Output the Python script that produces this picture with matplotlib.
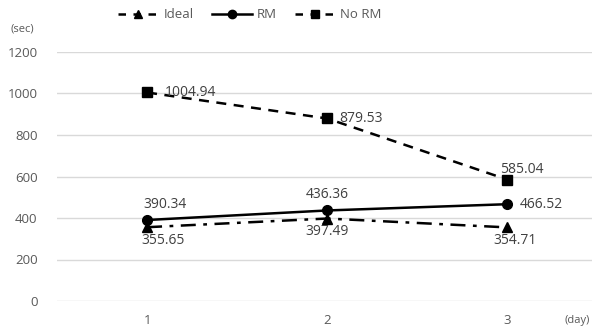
import matplotlib
matplotlib.use("Agg")
import matplotlib.pyplot as plt
from matplotlib.lines import Line2D

days = [1, 2, 3]
ideal = [355.65, 397.49, 354.71]
rm = [390.34, 436.36, 466.52]
no_rm = [1004.94, 879.53, 585.04]
yticks = [0, 200, 400, 600, 800, 1000, 1200]

plt.rcParams['font.family'] = ['Open Sans', 'DejaVu Sans']

fig = plt.figure(figsize=(5.92, 3.31), dpi=100)
ax = fig.add_axes([57 / 592, 30 / 331, 1 - 57 / 592, 249 / 331])

lw = 1.8
ax.plot(days, ideal, color='black', lw=lw, linestyle=(0, (6, 3, 1.5, 3)),
        marker='^', markersize=7)
ax.plot(days, rm, color='black', lw=lw, linestyle='-', marker='o', markersize=7)
ax.plot(days, no_rm, color='black', lw=lw, linestyle=(0, (4, 3)),
        marker='s', markersize=6.5)

ax.set_xlim(0.5, 3.47)
ax.set_ylim(0, 1200)
ax.set_yticks(yticks)
ax.set_xticks(days)
ax.grid(axis='y', color='#d9d9d9', lw=1)
ax.set_axisbelow(True)
for s in ax.spines.values():
    s.set_visible(False)
ax.tick_params(length=0, colors='#595959', labelsize=9.5)
ax.tick_params(axis='y', pad=14)
ax.tick_params(axis='x', pad=9)

lab_kw = dict(fontsize=10, color='#404040')
# value labels
ax.annotate(f"{no_rm[0]:.2f}", (days[0], no_rm[0]), xytext=(13, 0),
            textcoords='offset points', va='center', ha='left', **lab_kw)
ax.annotate(f"{no_rm[1]:.2f}", (days[1], no_rm[1]), xytext=(9, 0),
            textcoords='offset points', va='center', ha='left', **lab_kw)
ax.annotate(f"{no_rm[2]:.2f}", (days[2], no_rm[2]), xytext=(-5, 2),
            textcoords='offset points', va='bottom', ha='left', **lab_kw)
ax.annotate(f"{rm[0]:.2f}", (days[0], rm[0]), xytext=(-3, 6),
            textcoords='offset points', va='bottom', ha='left', **lab_kw)
ax.annotate(f"{rm[1]:.2f}", (days[1], rm[1]), xytext=(0, 6),
            textcoords='offset points', va='bottom', ha='center', **lab_kw)
ax.annotate(f"{rm[2]:.2f}", (days[2], rm[2]), xytext=(9, 0),
            textcoords='offset points', va='center', ha='left', **lab_kw)
ax.annotate(f"{ideal[0]:.2f}", (days[0], ideal[0]), xytext=(-4, -4),
            textcoords='offset points', va='top', ha='left', **lab_kw)
ax.annotate(f"{ideal[1]:.2f}", (days[1], ideal[1]), xytext=(0, -4),
            textcoords='offset points', va='top', ha='center', **lab_kw)
ax.annotate(f"{ideal[2]:.2f}", (days[2], ideal[2]), xytext=(-10, -4),
            textcoords='offset points', va='top', ha='left', **lab_kw)

fig.text(22 / 592, 1 - 29 / 331, "(sec)", fontsize=8, color='#595959',
         ha='center', va='center')
fig.text(577 / 592, 1 - 321 / 331, "(day)", fontsize=8, color='#595959',
         ha='center', va='center')

handles = [
    Line2D([], [], color='black', lw=lw, linestyle=(0, (3, 3)), marker='^', markersize=6),
    Line2D([], [], color='black', lw=lw, linestyle='-', marker='o', markersize=6),
    Line2D([], [], color='black', lw=lw, linestyle=(0, (3, 3)), marker='s', markersize=6),
]
leg = fig.legend(handles, ["Ideal", "RM", "No RM"], loc='center',
                 bbox_to_anchor=(250 / 592, 1 - 15 / 331), ncol=3, frameon=False,
                 fontsize=9.5, handlelength=3.0, handletextpad=0.4, columnspacing=1.4,
                 labelcolor='#595959')

fig.savefig("out.png", dpi=100)
